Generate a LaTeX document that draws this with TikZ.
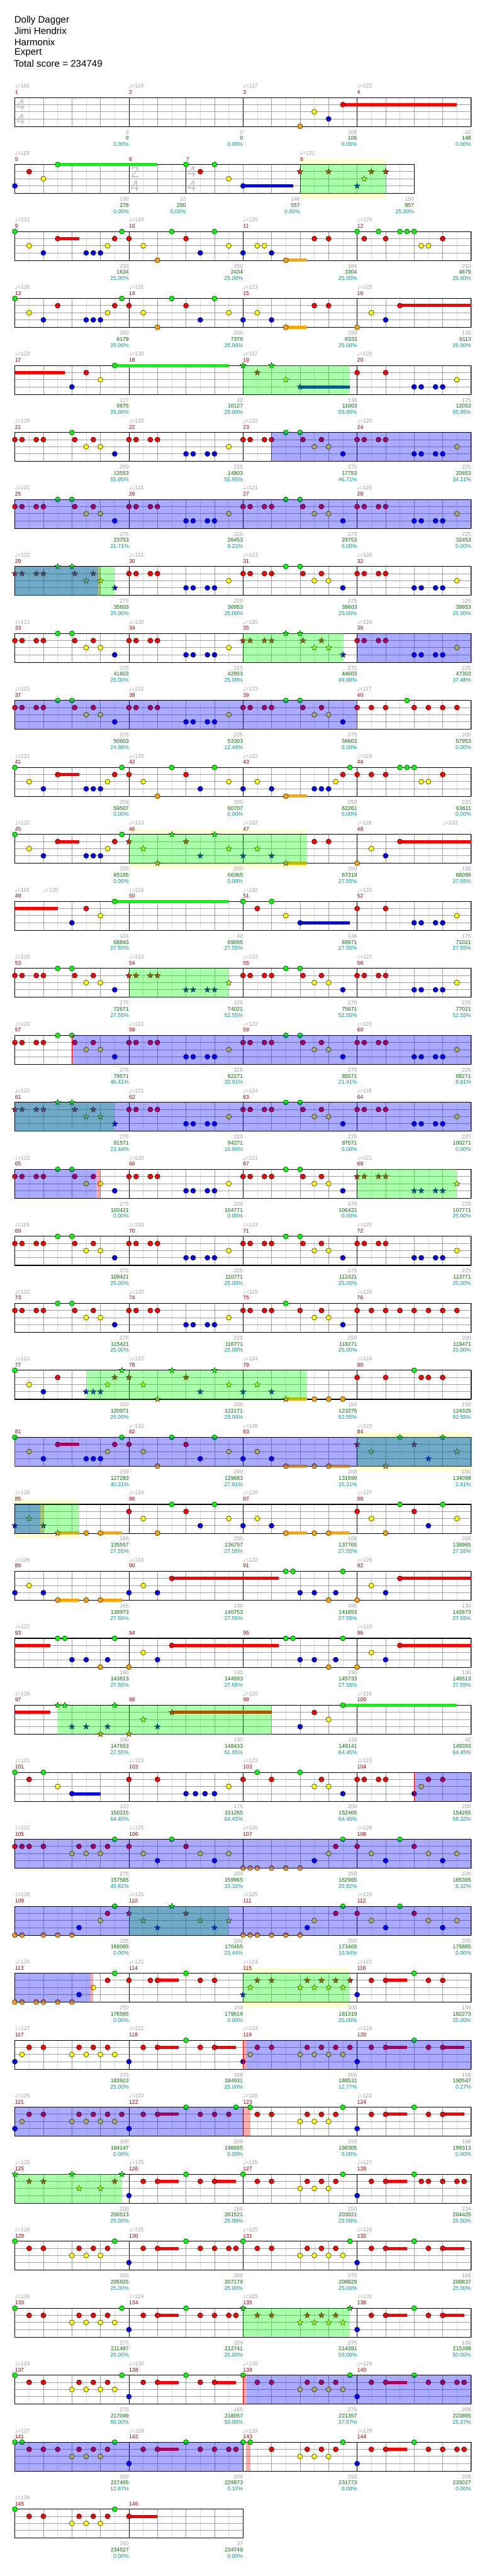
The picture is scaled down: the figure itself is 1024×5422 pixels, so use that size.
\documentclass[tikz,border=0pt]{standalone}
\usepackage{fontspec}
\setmainfont{Liberation Sans}
\newfontfamily\symfont{DejaVu Sans}
\usepackage{tikz}
\usetikzlibrary{shapes.geometric}
\definecolor{gcol}{RGB}{0,255,0}
\definecolor{rcol}{RGB}{255,0,0}
\definecolor{ycol}{RGB}{255,255,0}
\definecolor{bcol}{RGB}{0,0,255}
\definecolor{ocol}{RGB}{255,165,0}
\definecolor{numred}{RGB}{153,0,0}
\definecolor{labgray}{RGB}{160,160,160}
\definecolor{cumgreen}{RGB}{0,110,0}
\definecolor{pctteal}{RGB}{0,150,150}
\definecolor{bandyellow}{RGB}{255,255,208}

% lane heights below the top line of a staff
\newcommand{\laneg}{0}
\newcommand{\laner}{15}
\newcommand{\laney}{30}
\newcommand{\laneb}{45}
\newcommand{\laneo}{60.5}
\def\odA{-99}\def\odB{-99}

% grid of one row, #1 = length in 16ths, #2 = bar lines
\newcommand{\staff}[2]{%
  \foreach \q in {2,4,...,#1} \draw[eighthline] ({15*\q},0) -- ({15*\q},61);
  \foreach \q in {4,8,...,#1} \draw[beatline] ({15*\q},0) -- ({15*\q},61);
  \foreach \q in {15,30,45} \draw[laneline] (0,\q) -- ({15*#1},\q);
  \foreach \q in {#2} \draw[barline] ({15*\q},0) -- ({15*\q},61);
  \draw[staffframe] (0,0) rectangle ({15*#1},61);}
% start, end, bar, tempo, score, total, percent
\newcommand{\meas}[7]{%
  \if\relax\detokenize{#4}\relax\else
    \node[tempotxt, anchor=west] at ({15*#1},-24.3) {{\symfont ♩}=#4};
  \fi
  \node[numtxt, anchor=west] at ({15*#1},-11.3) {#3};
  \node[scoretxt, anchor=east] at ({15*#2},72.7) {#5};
  \node[cumtxt, anchor=east] at ({15*#2},85.7) {#6};
  \node[pcttxt, anchor=east] at ({15*#2},98.7) {#7\%};}
\newcommand{\tempo}[2]{\node[tempotxt, anchor=west] at ({15*#1},-24.3) {{\symfont ♩}=#2};}
\newcommand{\tsig}[3]{%
  \node[sigtxt] at ({15*#1+12.5},15.5) {#2};
  \node[sigtxt] at ({15*#1+12.5},45.5) {#3};}
% notes: stars inside the overdrive phrase of the row
\newcommand{\hits}[3][0]{%
  \foreach \p in {#3}{%
    \pgfmathsetmacro{\px}{\p+#1}%
    \pgfmathtruncatemacro{\isod}{(\px>\odA-0.05)*(\px<\odB+0.05)}%
    \ifnum\isod=1
      \node[odstar, fill=#2col] at ({15*\px},\csname lane#2\endcsname) {};
    \else
      \filldraw[gem, fill=#2col] ({15*\px},\csname lane#2\endcsname) circle[radius=5.3pt];
    \fi}}
\newcommand{\sus}[3]{\fill[#1col] ({15*#2},{\csname lane#1\endcsname-3.3}) rectangle ({15*#3},{\csname lane#1\endcsname+3.3});}
\newcommand{\barA}[1]{\hits[#1]{g}{6,8}\hits[#1]{r}{0,1,3,4,8.4,11}\hits[#1]{y}{10,12}\hits[#1]{b}{14}}
\newcommand{\barB}[1]{\hits[#1]{r}{0,1,3,4}\hits[#1]{b}{8,9,11,12}\hits[#1]{y}{14}}
\newcommand{\band}[2]{\fill[bandyellow] ({15*#1},-10) rectangle ({15*#2},0) ({15*#1},61) rectangle ({15*#2},71);}
\newcommand{\odzone}[2]{\fill[gcol, opacity=0.333] ({15*#1},0) rectangle ({15*#2},61);}
\newcommand{\actzone}[2]{\fill[bcol, opacity=0.333] ({15*#1},0) rectangle ({15*#2},61);}
\newcommand{\redzone}[2]{\fill[rcol, opacity=0.333] ({15*#1},0) rectangle ({15*#2},61);}
\newcommand{\redline}[1]{\draw[rcol, line width=0.8pt] ({15*#1},0) -- ({15*#1},61);}

\begin{document}
\begin{tikzpicture}[x=1pt, y=-1pt,
  eighthline/.style={draw=gray!28, line width=0.8pt},
  beatline/.style={draw=gray!75, line width=0.9pt},
  laneline/.style={draw=gray!75, line width=1.3pt},
  barline/.style={draw=black, line width=0.9pt},
  staffframe/.style={draw=black, line width=1.4pt},
  gem/.style={draw=black, line width=0.6pt},
  odstar/.style={star, star points=5, star point ratio=2.4, minimum size=13pt,
    inner sep=0pt, draw=black, line width=0.5pt},
  tempotxt/.style={text=labgray, inner sep=0pt, font=\fontsize{11.5}{12}\selectfont},
  numtxt/.style={text=numred, inner sep=0pt, font=\fontsize{11.5}{12}\selectfont},
  scoretxt/.style={text=labgray, inner sep=0pt, font=\fontsize{11.5}{12}\selectfont},
  cumtxt/.style={text=cumgreen, inner sep=0pt, font=\fontsize{11.5}{12}\selectfont},
  pcttxt/.style={text=pctteal, inner sep=0pt, font=\fontsize{11.5}{12}\selectfont},
  sigtxt/.style={text=gray!45, inner sep=0pt, font=\fontsize{33}{33}\selectfont},
  headtxt/.style={anchor=west, inner sep=0pt, font=\fontsize{20}{24}\selectfont}
]
\useasboundingbox (0,0) rectangle (1024,5422);
\fill[white] (0,0) rectangle (1024,5422);

\node[headtxt] (song) at (30,42.7) {Dolly Dagger};
\node[headtxt] (artist) at (30,65.3) {Jimi Hendrix};
\node[headtxt] (charter) at (30,88.3) {Harmonix};
\node[headtxt] (level) at (30,111.3) {Expert};
\node[headtxt] (total) at (29,134.3) {Total score = 234749};

% bars 1-4
\begin{scope}[shift={(31.3,{205.3+141*0})}]
\staff{64}{16,32,48}
\tsig{0}{4}{4}
\meas{0}{16}{1}{118}{0}{0}{0.00}
\meas{16}{32}{2}{119}{0}{0}{0.00}
\meas{32}{48}{3}{117}{106}{106}{0.00}
\meas{48}{64}{4}{122}{42}{148}{0.00}
\sus{r}{46}{62}
\hits{r}{46}\hits{y}{42}\hits{b}{44}\hits{o}{40}
\end{scope}

% bars 5-8
\begin{scope}[shift={(31.3,{205.3+141*1})}]
\def\odA{40}\def\odB{52}
\band{40}{52}
\staff{56}{16,24,40}
\tsig{16}{2}{4}\tsig{24}{4}{4}
\meas{0}{16}{5}{119}{130}{278}{0.00}
\meas{16}{24}{6}{}{12}{290}{0.00}
\meas{24}{40}{7}{}{146}{557}{0.00}
\meas{40}{56}{8}{121}{150}{857}{25.00}
\sus{g}{6}{20}\sus{b}{32}{39}
\hits{g}{6,24,28}
\hits{r}{2,26,40,44,50,52}
\hits{y}{4,30,49}
\hits{b}{0,32,48}
\odzone{40}{52}
\end{scope}

% bars 9-12
\begin{scope}[shift={(31.3,{205.3+141*2})}]
\staff{64}{16,32,48}
\meas{0}{16}{9}{121}{259}{1634}{25.00}
\meas{16}{32}{10}{124}{200}{2434}{25.00}
\meas{32}{48}{11}{125}{184}{3304}{25.00}
\meas{48}{64}{12}{125}{250}{4679}{25.00}
\sus{r}{6}{9}\sus{o}{38}{41}
\hits{g}{0,15,22,28,48,51,54,55,56}
\hits{r}{6,14,16,24,42,44,49,52,60}
\hits{y}{2,13,18,30,34,35,57,58}
\hits{b}{4,10,11,12,26,32,36}
\hits{o}{20,38}
\end{scope}

% bars 13-16
\begin{scope}[shift={(31.3,{205.3+141*3})}]
\staff{64}{16,32,48}
\meas{0}{16}{13}{126}{250}{6179}{25.00}
\meas{16}{32}{14}{125}{200}{7379}{25.00}
\meas{32}{48}{15}{123}{159}{8333}{25.00}
\meas{48}{64}{16}{120}{130}{9113}{25.00}
\sus{r}{54}{64}\sus{o}{38}{41}
\hits{g}{0,15,22,28}
\hits{r}{6,14,16,24,42,44,54}
\hits{y}{2,13,18,30,34,50}
\hits{b}{4,10,11,12,26,32,36,52}
\hits{o}{20,38,48}
\end{scope}

% bars 17-20
\begin{scope}[shift={(31.3,{205.3+141*4})}]
\def\odA{32}\def\odB{47}
\staff{64}{16,32,48}
\meas{0}{16}{17}{123}{127}{9875}{25.00}
\meas{16}{32}{18}{120}{42}{10127}{25.00}
\meas{32}{48}{19}{117}{146}{11003}{55.95}
\meas{48}{64}{20}{120}{175}{12053}{55.95}
\sus{r}{0}{7}\sus{g}{14}{30}\sus{b}{40}{47}
\hits{g}{14,32,36}
\hits{r}{10,34,48,52}
\hits{y}{12,38,62}
\hits{b}{8,40,56,57,59,60}
\odzone{32}{47}
\end{scope}

% bars 21-24
\begin{scope}[shift={(31.3,{205.3+141*5})}]
\staff{64}{16,32,48}
\meas{0}{16}{21}{120}{250}{13553}{55.95}
\meas{16}{32}{22}{120}{225}{14903}{55.95}
\meas{32}{48}{23}{122}{275}{17753}{46.71}
\meas{48}{64}{24}{120}{225}{20453}{34.21}
\hits{g}{8}\hits{r}{0,1,3,4,8.4,11}\hits{y}{10,12}\hits{b}{14}
\barB{16}\barA{32}\barB{48}
\actzone{36}{64}\redline{36}
\end{scope}

% bars 25-28
\begin{scope}[shift={(31.3,{205.3+141*6})}]
\staff{64}{16,32,48}
\meas{0}{16}{25}{121}{275}{23753}{21.71}
\meas{16}{32}{26}{121}{225}{26453}{9.21}
\meas{32}{48}{27}{121}{275}{29753}{0.00}
\meas{48}{64}{28}{120}{225}{32453}{0.00}
\barA{0}\barB{16}\barA{32}\barB{48}
\actzone{0}{64}
\end{scope}

% bars 29-32
\begin{scope}[shift={(31.3,{205.3+141*7})}]
\def\odA{0}\def\odB{14}
\staff{64}{16,32,48}
\meas{0}{16}{29}{122}{275}{35603}{25.00}
\meas{16}{32}{30}{121}{225}{36953}{25.00}
\meas{32}{48}{31}{123}{275}{38603}{25.00}
\meas{48}{64}{32}{120}{225}{39953}{25.00}
\barA{0}\barB{16}\barA{32}\barB{48}
\redzone{11.7}{12}\odzone{0}{14}\actzone{0}{11.7}
\end{scope}

% bars 33-36
\begin{scope}[shift={(31.3,{205.3+141*8})}]
\def\odA{32}\def\odB{46}
\staff{64}{16,32,48}
\meas{0}{16}{33}{121}{275}{41603}{25.00}
\meas{16}{32}{34}{120}{225}{42953}{25.00}
\meas{32}{48}{35}{120}{275}{44603}{49.98}
\meas{48}{64}{36}{120}{225}{47303}{37.48}
\barA{0}\barB{16}\barA{32}\barB{48}
\odzone{32}{46}\actzone{48}{64}
\end{scope}

% bars 37-40
\begin{scope}[shift={(31.3,{205.3+141*9})}]
\staff{64}{16,32,48}
\meas{0}{16}{37}{121}{275}{50603}{24.98}
\meas{16}{32}{38}{121}{225}{53303}{12.48}
\meas{32}{48}{39}{123}{275}{56603}{0.00}
\meas{48}{64}{40}{117}{200}{57953}{0.00}
\barA{0}\barB{16}\barA{32}
\hits{g}{55}\hits{r}{48,50,52,56,58,60,62}
\actzone{0}{48}\redline{48}
\end{scope}

% bars 41-44
\begin{scope}[shift={(31.3,{205.3+141*10})}]
\staff{64}{16,32,48}
\meas{0}{16}{41}{121}{259}{59507}{0.00}
\meas{16}{32}{42}{120}{200}{60707}{0.00}
\meas{32}{48}{43}{122}{259}{62261}{0.00}
\meas{48}{64}{44}{124}{225}{63611}{0.00}
\sus{r}{6}{9}\sus{o}{38}{41}
\hits{g}{0,15,22,28,47,54,55,56}
\hits{r}{6,14,16,24,46,48,50,52,60}
\hits{y}{2,13,18,30,34,45,57,58}
\hits{b}{4,10,11,12,26,32,36,42,43,44}
\hits{o}{20,38}
\end{scope}

% bars 45-48
\begin{scope}[shift={(31.3,{205.3+141*11})}]
\def\odA{16}\def\odB{41}
\band{16}{41}
\staff{64}{16,32,48}
\meas{0}{16}{45}{122}{259}{65165}{0.00}
\meas{16}{32}{46}{123}{200}{66365}{0.00}
\meas{32}{48}{47}{122}{159}{67319}{27.55}
\meas{48}{64}{48}{118}{130}{68099}{27.55}
\tempo{60}{133}
\sus{r}{6}{9}\sus{o}{38}{41}\sus{r}{54}{64}
\hits{g}{0,15,22,28}
\hits{r}{6,14,16,24,42,44,54}
\hits{y}{2,13,18,30,34,50}
\hits{b}{4,10,11,12,26,32,36,52}
\hits{o}{20,38,48}
\odzone{16}{41}
\end{scope}

% bars 49-52
\begin{scope}[shift={(31.3,{205.3+141*12})}]
\staff{64}{16,32,48}
\meas{0}{16}{49}{119}{124}{68843}{27.55}
\meas{16}{32}{50}{119}{42}{69095}{27.55}
\meas{32}{48}{51}{122}{146}{69971}{27.55}
\meas{48}{64}{52}{120}{175}{71021}{27.55}
\tempo{4}{125}
\sus{r}{0}{6}\sus{g}{14}{30}\sus{b}{40}{47}
\hits{g}{14,32,36}
\hits{r}{10,34,48,52}
\hits{y}{12,38,62}
\hits{b}{8,40,56,57,59,60}
\end{scope}

% bars 53-56
\begin{scope}[shift={(31.3,{205.3+141*13})}]
\def\odA{16}\def\odB{30}
\staff{64}{16,32,48}
\meas{0}{16}{53}{120}{275}{72671}{27.55}
\meas{16}{32}{54}{123}{225}{74021}{52.55}
\meas{32}{48}{55}{123}{275}{75671}{52.55}
\meas{48}{64}{56}{121}{225}{77021}{52.55}
\barA{0}\barB{16}\barA{32}\barB{48}
\odzone{16}{30}
\end{scope}

% bars 57-60
\begin{scope}[shift={(31.3,{205.3+141*14})}]
\staff{64}{16,32,48}
\meas{0}{16}{57}{123}{275}{79571}{46.41}
\meas{16}{32}{58}{121}{225}{82271}{33.91}
\meas{32}{48}{59}{122}{275}{85571}{21.41}
\meas{48}{64}{60}{120}{225}{88271}{8.91}
\barA{0}\barB{16}\barA{32}\barB{48}
\actzone{8}{64}\redline{8}
\end{scope}

% bars 61-64
\begin{scope}[shift={(31.3,{205.3+141*15})}]
\def\odA{0}\def\odB{14}
\staff{64}{16,32,48}
\meas{0}{16}{61}{122}{275}{91571}{23.44}
\meas{16}{32}{62}{121}{225}{94271}{10.94}
\meas{32}{48}{63}{124}{275}{97571}{0.00}
\meas{48}{64}{64}{118}{225}{100271}{0.00}
\barA{0}\barB{16}\barA{32}\barB{48}
\odzone{0}{14}\actzone{0}{64}
\end{scope}

% bars 65-68
\begin{scope}[shift={(31.3,{205.3+141*16})}]
\def\odA{48}\def\odB{62}
\staff{64}{16,32,48}
\meas{0}{16}{65}{122}{275}{103421}{0.00}
\meas{16}{32}{66}{120}{225}{104771}{0.00}
\meas{32}{48}{67}{121}{275}{106421}{0.00}
\meas{48}{64}{68}{121}{225}{107771}{25.00}
\barA{0}\barB{16}\barA{32}\barB{48}
\actzone{0}{11.4}\redzone{11.4}{12}\odzone{48}{62}
\end{scope}

% bars 69-72
\begin{scope}[shift={(31.3,{205.3+141*17})}]
\staff{64}{16,32,48}
\meas{0}{16}{69}{119}{275}{109421}{25.00}
\meas{16}{32}{70}{120}{225}{110771}{25.00}
\meas{32}{48}{71}{123}{275}{112421}{25.00}
\meas{48}{64}{72}{120}{225}{113771}{25.00}
\barA{0}\barB{16}\barA{32}\barB{48}
\end{scope}

% bars 73-76
\begin{scope}[shift={(31.3,{205.3+141*18})}]
\staff{64}{16,32,48}
\meas{0}{16}{73}{122}{275}{115421}{25.00}
\meas{16}{32}{74}{120}{225}{116771}{25.00}
\meas{32}{48}{75}{119}{250}{118271}{25.00}
\meas{48}{64}{76}{120}{200}{119471}{25.00}
\barA{0}\barB{16}
\hits{g}{38}
\hits{r}{32,33,35,36,40,43,48,50,52,54,56,58,60,62}
\hits{y}{42,44}\hits{b}{46}
\end{scope}

% bars 77-80
\begin{scope}[shift={(31.3,{205.3+141*19})}]
\def\odA{10}\def\odB{41}
\staff{64}{16,32,48}
\meas{0}{16}{77}{121}{250}{120971}{25.00}
\meas{16}{32}{78}{122}{200}{122171}{25.00}
\meas{32}{48}{79}{124}{184}{123275}{52.55}
\meas{48}{64}{80}{124}{150}{124325}{52.55}
\sus{o}{38}{41}
\hits{g}{0,15,22,28,56}
\hits{r}{6,14,16,24,48,52,57,58,60}
\hits{y}{2,13,18,30,34}
\hits{b}{4,10,11,12,26,32,36}
\hits{o}{20,38,42,44,46}
\odzone{10}{41}\redline{64}
\end{scope}

% bars 81-84
\begin{scope}[shift={(31.3,{205.3+141*20})}]
\def\odA{48}\def\odB{64}
\band{48}{64}
\staff{64}{16,32,48}
\meas{0}{16}{81}{}{259}{127283}{40.31}
\meas{16}{32}{82}{122}{200}{129683}{27.81}
\meas{32}{48}{83}{126}{168}{131699}{15.31}
\meas{48}{64}{84}{123}{200}{134099}{2.81}
\sus{r}{6}{9}\sus{o}{38}{41}\sus{o}{44}{47}
\hits{g}{0,15,22,28,54,60}
\hits{r}{6,14,16,24,48,56}
\hits{y}{2,13,18,30,34,50,62}
\hits{b}{4,10,11,12,26,32,36,58}
\hits{o}{20,38,42,44,52}
\odzone{48}{64}\actzone{0}{64}\redline{0}
\end{scope}

% bars 85-88
\begin{scope}[shift={(31.3,{205.3+141*21})}]
\def\odA{0}\def\odB{9}
\band{0}{9}
\staff{64}{16,32,48}
\meas{0}{16}{85}{128}{168}{135557}{27.55}
\meas{16}{32}{86}{124}{200}{136757}{27.55}
\meas{32}{48}{87}{126}{168}{137765}{27.55}
\meas{48}{64}{88}{127}{200}{138965}{27.55}
\sus{o}{6}{9}\sus{o}{12}{15}\sus{o}{38}{41}\sus{o}{44}{47}
\hits{g}{22,28,54,60}
\hits{r}{16,24,48,56}
\hits{y}{2,18,30,34,50,62}
\hits{b}{0,4,26,32,36,58}
\hits{o}{6,10,12,20,38,42,44,52}
\redzone{3.6}{4}\odzone{0}{9}\actzone{0}{3.6}
\end{scope}

% bars 89-92
\begin{scope}[shift={(31.3,{205.3+141*22})}]
\staff{64}{16,32,48}
\meas{0}{16}{89}{126}{168}{139973}{27.55}
\meas{16}{32}{90}{124}{130}{140753}{27.55}
\meas{32}{48}{91}{122}{190}{141893}{27.55}
\meas{48}{64}{92}{126}{130}{142673}{27.55}
\sus{o}{6}{9}\sus{o}{12}{15}\sus{r}{22}{37}\sus{r}{54}{64}
\hits{g}{38,39,46}
\hits{r}{22,54}
\hits{y}{2,18,50}
\hits{b}{0,4,16,20,40,42,45,52}
\hits{o}{6,10,12,44,48}
\end{scope}

% bars 93-96
\begin{scope}[shift={(31.3,{205.3+141*23})}]
\staff{64}{16,32,48}
\meas{0}{16}{93}{122}{190}{143813}{27.55}
\meas{16}{32}{94}{}{130}{144593}{27.55}
\meas{32}{48}{95}{}{190}{145733}{27.55}
\meas{48}{64}{96}{123}{130}{146513}{27.55}
\sus{r}{0}{5}\sus{r}{22}{37}\sus{r}{54}{64}
\hits{g}{6,7,14,38,39,46}
\hits{r}{22,54}
\hits{y}{18,50}
\hits{b}{8,10,13,20,40,42,45,52}
\hits{o}{12,16,44,48}
\end{scope}

% bars 97-100
\begin{scope}[shift={(31.3,{205.3+141*24})}]
\def\odA{6}\def\odB{36}
\staff{64}{16,32,48}
\meas{0}{16}{97}{126}{190}{147653}{27.55}
\meas{16}{32}{98}{}{130}{148433}{61.05}
\meas{32}{48}{99}{120}{118}{149141}{64.45}
\meas{48}{64}{100}{119}{42}{149393}{64.45}
\sus{r}{0}{5}\sus{r}{22}{36}\sus{g}{46}{62}
\hits{g}{6,7,14,46}
\hits{r}{22,42}
\hits{y}{18,44}
\hits{b}{8,10,13,20,40}
\hits{o}{12,16}
\odzone{6}{36}
\end{scope}

% bars 101-104
\begin{scope}[shift={(31.3,{205.3+141*25})}]
\staff{64}{16,32,48}
\meas{0}{16}{101}{121}{137}{150215}{64.45}
\meas{16}{32}{102}{123}{175}{151265}{64.45}
\meas{32}{48}{103}{123}{200}{152465}{64.45}
\meas{48}{64}{104}{123}{200}{154265}{58.32}
\sus{b}{8}{12}
\hits{g}{0,4,34,40}
\hits{r}{2,16,20,32,36,43,48,49,51,52,58,60}
\hits{y}{6,30,42,44,57}
\hits{b}{8,24,25.33,26.67,28,46,56}
\actzone{56}{64}\redline{56}
\end{scope}

% bars 105-108
\begin{scope}[shift={(31.3,{205.3+141*26})}]
\staff{64}{16,32,48}
\meas{0}{16}{105}{122}{275}{157565}{45.82}
\meas{16}{32}{106}{125}{200}{159965}{33.32}
\meas{32}{48}{107}{126}{250}{162965}{20.82}
\meas{48}{64}{108}{128}{200}{165365}{8.32}
\hits{g}{14,22,46,54}
\hits{r}{0,1,2,4,9,11,13,16,24,45,48,56}
\hits{y}{8,10,12,18,26,30,44,50,58,62}
\hits{b}{20,28,42,52,60}
\hits{o}{32,33,34,36,38,40}
\actzone{0}{64}
\end{scope}

% bars 109-112
\begin{scope}[shift={(31.3,{205.3+141*27})}]
\def\odA{16}\def\odB{30}
\staff{64}{16,32,48}
\meas{0}{16}{109}{120}{225}{168065}{0.00}
\meas{16}{32}{110}{125}{200}{170465}{23.44}
\meas{32}{48}{111}{125}{250}{173465}{10.94}
\meas{48}{64}{112}{125}{200}{175865}{0.00}
\hits{g}{14,22,46,54}
\hits{r}{13,16,24,45,48,56}
\hits{y}{12,18,26,30,42,50,58,62}
\hits{b}{9,20,28,41,52,60}
\hits{o}{0,1,4,6,8,32,33,34,36,38,40}
\odzone{16}{30}\actzone{0}{64}
\end{scope}

% bars 113-116
\begin{scope}[shift={(31.3,{205.3+141*28})}]
\def\odA{32}\def\odB{47}
\band{32}{47}
\staff{64}{16,32,48}
\meas{0}{16}{113}{124}{250}{178565}{0.00}
\meas{16}{32}{114}{121}{159}{179519}{0.00}
\meas{32}{48}{115}{124}{300}{181319}{25.00}
\meas{48}{64}{116}{121}{159}{182273}{25.00}
\sus{r}{20}{23}\sus{r}{52}{55}
\hits{g}{14,24,56}
\hits{r}{13,16,19,20,26,28,34,36,41,43,45,47,50,52,58,60}
\hits{y}{11,33,40,42,44,46}
\hits{b}{9,32,48}
\hits{o}{0,1,3,4,6,8}
\actzone{0}{10.6}\redzone{10.6}{11}\odzone{32}{47}
\end{scope}

% bars 117-120
\begin{scope}[shift={(31.3,{205.3+141*29})}]
\staff{64}{16,32,48}
\meas{0}{16}{117}{127}{275}{183923}{25.00}
\meas{16}{32}{118}{122}{168}{184931}{25.00}
\meas{32}{48}{119}{124}{300}{188531}{12.77}
\meas{48}{64}{120}{124}{168}{190547}{0.27}
\sus{r}{20}{23}\sus{r}{28}{31}\sus{r}{52}{55}\sus{r}{60}{63}
\hits{g}{24,56}
\hits{r}{2,4,9,11,13,18,20,26,28,34,36,41,43,45,47,50,52,58,60}
\hits{y}{1,8,10,12,14,33,40,42,44,46}
\hits{b}{0,16,32,48}
\redzone{32}{32.4}\actzone{32.4}{64}\redline{32}
\end{scope}

% bars 121-124
\begin{scope}[shift={(31.3,{205.3+141*30})}]
\staff{64}{16,32,48}
\meas{0}{16}{121}{125}{300}{194147}{0.00}
\meas{16}{32}{122}{123}{209}{196655}{0.00}
\meas{32}{48}{123}{126}{250}{198305}{0.00}
\meas{48}{64}{124}{122}{168}{199313}{0.00}
\sus{r}{20}{23}\sus{r}{52}{55}\sus{r}{60}{63}
\hits{g}{24,31,33,46,56}
\hits{r}{2,4,9,11,13,15,18,20,26,28,30,34,36,41,43,45,50,52,58,60}
\hits{y}{1,8,10,12,14,40,42,44}
\hits{b}{0,16,48}
\actzone{0}{32}\redzone{32}{33}
\end{scope}

% bars 125-128
\begin{scope}[shift={(31.3,{205.3+141*31})}]
\def\odA{0}\def\odB{15}
\staff{64}{16,32,48}
\meas{0}{16}{125}{128}{200}{200513}{25.00}
\meas{16}{32}{126}{125}{168}{201521}{25.00}
\meas{32}{48}{127}{125}{250}{203021}{25.00}
\meas{48}{64}{128}{127}{234}{204425}{25.00}
\sus{r}{20}{23}\sus{r}{28}{31}\sus{r}{52}{55}
\hits{g}{0,8,15,24,32,46,56}
\hits{r}{2,4,14,18,20,26,28,34,36,41,43,45,50,52,57,58,60,62,63}
\hits{y}{9,12,40,42,44}
\hits{b}{16,48}
\odzone{0}{15}
\end{scope}

% bars 129-132
\begin{scope}[shift={(31.3,{205.3+141*32})}]
\staff{64}{16,32,48}
\meas{0}{16}{129}{126}{250}{205925}{25.00}
\meas{16}{32}{130}{125}{209}{207179}{25.00}
\meas{32}{48}{131}{125}{275}{208829}{25.00}
\meas{48}{64}{132}{126}{168}{209837}{25.00}
\sus{r}{20}{23}\sus{r}{52}{55}\sus{r}{60}{63}
\hits{g}{0,14,24,32,47,56}
\hits{r}{2,4,9,11,13,18,20,26,28,30,31,34,36,41,43,45,50,52,58,60}
\hits{y}{8,10,12,40,42,44,46}
\hits{b}{16,48}
\end{scope}

% bars 133-136
\begin{scope}[shift={(31.3,{205.3+141*33})}]
\def\odA{32}\def\odB{47}
\staff{64}{16,32,48}
\meas{0}{16}{133}{124}{275}{211487}{25.00}
\meas{16}{32}{134}{124}{209}{212741}{25.00}
\meas{32}{48}{135}{125}{275}{214391}{50.00}
\meas{48}{64}{136}{131}{168}{215399}{50.00}
\sus{r}{20}{23}\sus{r}{52}{55}\sus{r}{60}{63}
\hits{g}{0,15,24,32,47,56}
\hits{r}{2,4,9,11,13,18,20,26,28,30,31,34,36,41,43,45,50,52,58,60}
\hits{y}{8,10,12,14,40,42,44,46}
\hits{b}{16,48}
\odzone{32}{47}
\end{scope}

% bars 137-140
\begin{scope}[shift={(31.3,{205.3+141*34})}]
\staff{64}{16,32,48}
\meas{0}{16}{137}{124}{275}{217049}{50.00}
\meas{16}{32}{138}{130}{168}{218057}{50.00}
\meas{32}{48}{139}{126}{275}{221357}{37.87}
\meas{48}{64}{140}{129}{209}{223865}{25.37}
\sus{r}{20}{23}\sus{r}{28}{31}\sus{r}{52}{55}
\hits{g}{0,15,24,32,47,56}
\hits{r}{2,4,9,11,13,18,20,26,28,34,36,41,43,45,50,52,58,60,62,63}
\hits{y}{8,10,12,14,40,42,44,46}
\hits{b}{16,48}
\redzone{32}{32.5}\actzone{32.5}{64}\redline{32}
\end{scope}

% bars 141-144
\begin{scope}[shift={(31.3,{205.3+141*35})}]
\staff{64}{16,32,48}
\meas{0}{16}{141}{127}{300}{227465}{12.87}
\meas{16}{32}{142}{129}{209}{229973}{0.37}
\meas{32}{48}{143}{128}{250}{231773}{0.00}
\meas{48}{64}{144}{128}{209}{233027}{0.00}
\sus{r}{20}{23}\sus{r}{52}{55}
\hits{g}{0,1,14,24,32,33,46,56}
\hits{r}{2,4,6,9,11,13,18,20,26,28,30,31,36,41,43,45,50,52,58,60,62,63}
\hits{y}{8,10,12,40,42,44}
\hits{b}{16,48}
\actzone{0}{32}\redzone{32.4}{33}
\end{scope}

% bars 145-146
\begin{scope}[shift={(31.3,{205.3+141*36})}]
\staff{32}{16}
\meas{0}{16}{145}{126}{250}{234527}{0.00}
\meas{16}{32}{146}{}{37}{234749}{0.00}
\sus{r}{16}{20}
\hits{g}{0,14}
\hits{r}{2,4,9,11,13,16}
\hits{y}{8,10,12}
\end{scope}
\end{tikzpicture}
\end{document}
